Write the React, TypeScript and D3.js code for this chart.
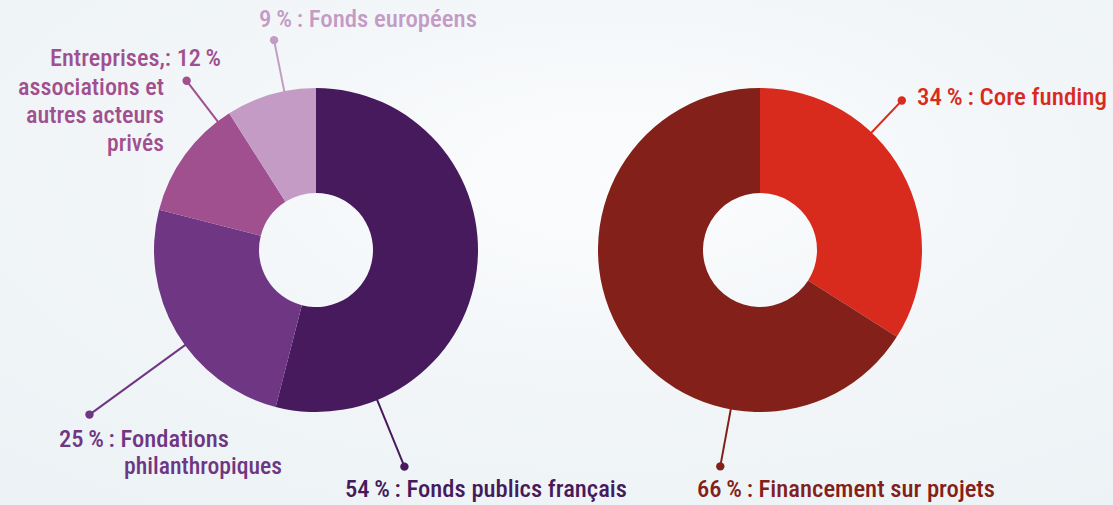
import React from "react";
import * as d3 from "d3";

// ---- Data ----
const leftCategories = [
  "Fonds publics français",
  "Fondations philanthropiques",
  "Entreprises, associations et autres acteurs privés",
  "Fonds européens",
];
const leftValues = [54, 25, 12, 9];
const leftColors = ["#461a5c", "#6f3683", "#a04f8f", "#c39bc4"];

const rightCategories = ["Core funding", "Financement sur projets"];
const rightValues = [34, 66];
const rightColors = ["#d82b1e", "#832019"];

// label text lines per slice
const leftLabelLines = [
  ["54\u2009%\u2009: Fonds publics français"],
  ["25\u2009%\u2009: Fondations", "philanthropiques"],
  ["Entreprises,: 12\u2009%", "associations et", "autres acteurs", "privés"],
  ["9\u2009%\u2009: Fonds européens"],
];
const rightLabelLines = [["34\u2009%\u2009: Core funding"], ["66\u2009%\u2009: Financement sur projets"]];

// ---- Layout ----
const W = 1113;
const H = 505;
const R_OUT = 162;
const R_IN = 57;
const FONT = "'Roboto Condensed', 'Liberation Sans Narrow', Roboto, 'DejaVu Sans Condensed', sans-serif";

type LineLayout = { x: number; y: number; anchor: "start" | "end"; w: number };
type LabelLayout = { angle: number; len: number; lines: LineLayout[] };

const leftLayout: LabelLayout[] = [
  { angle: 157.8, len: 234, lines: [{ x: 345, y: 497, anchor: "start", w: 282 }] },
  {
    angle: 234,
    len: 280,
    lines: [
      { x: 59, y: 447, anchor: "start", w: 170 },
      { x: 124, y: 474, anchor: "start", w: 158 },
    ],
  },
  {
    angle: 322.6,
    len: 213,
    lines: [
      { x: 221, y: 66, anchor: "end", w: 171 },
      { x: 164, y: 94.5, anchor: "end", w: 146 },
      { x: 164, y: 123, anchor: "end", w: 138 },
      { x: 164, y: 151, anchor: "end", w: 57 },
    ],
  },
  { angle: 348.7, len: 214, lines: [{ x: 259, y: 27, anchor: "start", w: 218 }] },
];
const rightLayout: LabelLayout[] = [
  { angle: 43.5, len: 206, lines: [{ x: 917, y: 105, anchor: "start", w: 190 }] },
  { angle: 190.4, len: 220, lines: [{ x: 697, y: 497, anchor: "start", w: 298 }] },
];

function polar(cx: number, cy: number, r: number, deg: number) {
  const a = (deg * Math.PI) / 180;
  return [cx + r * Math.sin(a), cy - r * Math.cos(a)];
}

function Donut(props: {
  cx: number;
  cy: number;
  categories: string[];
  values: number[];
  colors: string[];
  labels: string[][];
  layout: LabelLayout[];
}) {
  const { cx, cy, categories, values, colors, labels, layout } = props;
  const pie = d3.pie<number>().sort(null).value((d) => d)(values);
  const arc = d3.arc<d3.PieArcDatum<number>>().innerRadius(R_IN).outerRadius(R_OUT);
  return (
    <g>
      <g transform={`translate(${cx},${cy})`}>
        {pie.map((p, i) => (
          <path key={categories[i]} d={arc(p) || ""} fill={colors[i]} />
        ))}
      </g>
      {layout.map((lay, i) => {
        const [x1, y1] = polar(cx, cy, R_OUT - 1, lay.angle);
        const [x2, y2] = polar(cx, cy, lay.len, lay.angle);
        return (
          <g key={"l" + i}>
            <line x1={x1} y1={y1} x2={x2} y2={y2} stroke={colors[i]} strokeWidth={2} />
            <circle cx={x2} cy={y2} r={4.2} fill={colors[i]} />
            {labels[i].map((t, j) => {
              const ln = lay.lines[j];
              return (
                <text
                  key={j}
                  x={ln.x}
                  y={ln.y}
                  textAnchor={ln.anchor}
                  fill={colors[i]}
                  fontFamily={FONT}
                  fontSize={24.5}
                  fontWeight={500}
                  textLength={ln.w}
                  lengthAdjust="spacingAndGlyphs"
                >
                  {t}
                </text>
              );
            })}
          </g>
        );
      })}
    </g>
  );
}

export default function App() {
  return (
    <svg
      width={W}
      height={H}
      style={{ position: "absolute", left: 0, top: 0, display: "block" }}
    >
      <defs>
        <radialGradient id="bg" cx="0.55" cy="0.35" r="0.8">
          <stop offset="0" stopColor="#fbfcfd" />
          <stop offset="0.6" stopColor="#f1f5f8" />
          <stop offset="1" stopColor="#ecf2f5" />
        </radialGradient>
      </defs>
      <rect x={0} y={0} width={W} height={H} fill="url(#bg)" />
      <Donut
        cx={316}
        cy={250}
        categories={leftCategories}
        values={leftValues}
        colors={leftColors}
        labels={leftLabelLines}
        layout={leftLayout}
      />
      <Donut
        cx={760}
        cy={250}
        categories={rightCategories}
        values={rightValues}
        colors={rightColors}
        labels={rightLabelLines}
        layout={rightLayout}
      />
    </svg>
  );
}
